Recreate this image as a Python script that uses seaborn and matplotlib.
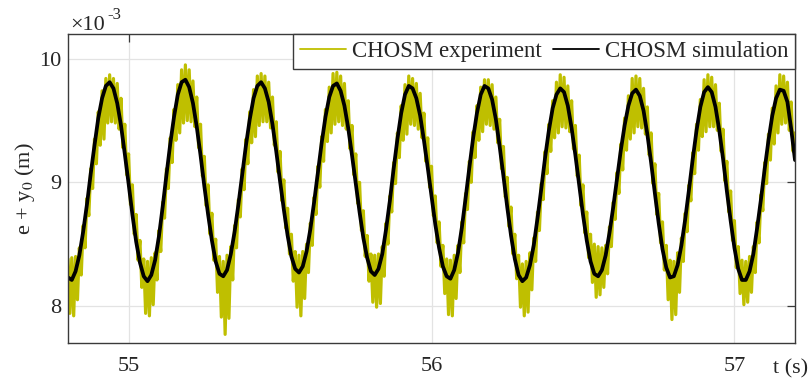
import numpy as np
import matplotlib
matplotlib.use("Agg")
import matplotlib.pyplot as plt
import seaborn as sns
from matplotlib.lines import Line2D

# ---------------- data (values in units of 1e-3 m) ----------------
t_start = 54.80          # s, first sample
sim_step = 0.0125        # s, sampling of simulation values
exp_step = 0.00625       # s, sampling of experiment values

sim_vals = [
    8.23, 8.21, 8.28, 8.41, 8.60, 8.82, 9.07, 9.30, 9.52, 9.68,
    9.78, 9.81, 9.76, 9.64, 9.46, 9.23, 8.99, 8.74, 8.52, 8.35,
    8.24, 8.20, 8.25, 8.37, 8.56, 8.80, 9.06, 9.31, 9.53, 9.71,
    9.81, 9.83, 9.77, 9.64, 9.45, 9.22, 8.97, 8.74, 8.53, 8.36,
    8.26, 8.24, 8.29, 8.42, 8.60, 8.82, 9.06, 9.30, 9.51, 9.68,
    9.78, 9.81, 9.76, 9.65, 9.47, 9.25, 9.01, 8.78, 8.57, 8.40,
    8.30, 8.27, 8.32, 8.44, 8.62, 8.84, 9.08, 9.32, 9.53, 9.69,
    9.78, 9.80, 9.74, 9.62, 9.44, 9.22, 8.99, 8.76, 8.55, 8.39,
    8.28, 8.25, 8.30, 8.42, 8.62, 8.85, 9.11, 9.35, 9.56, 9.71,
    9.78, 9.76, 9.68, 9.54, 9.34, 9.12, 8.89, 8.66, 8.47, 8.32,
    8.24, 8.22, 8.29, 8.43, 8.63, 8.87, 9.12, 9.36, 9.56, 9.71,
    9.78, 9.76, 9.67, 9.51, 9.29, 9.05, 8.80, 8.57, 8.38, 8.25,
    8.20, 8.23, 8.33, 8.49, 8.71, 8.95, 9.20, 9.42, 9.60, 9.71,
    9.76, 9.73, 9.62, 9.44, 9.22, 8.98, 8.74, 8.53, 8.36, 8.26,
    8.24, 8.29, 8.41, 8.59, 8.80, 9.03, 9.26, 9.46, 9.62, 9.72,
    9.75, 9.70, 9.58, 9.39, 9.16, 8.91, 8.67, 8.46, 8.31, 8.23,
    8.24, 8.33, 8.49, 8.70, 8.94, 9.19, 9.42, 9.61, 9.73, 9.77,
    9.73, 9.61, 9.42, 9.19, 8.93, 8.69, 8.47, 8.30, 8.21, 8.21,
    8.28, 8.42, 8.63, 8.86, 9.11, 9.34, 9.54, 9.68, 9.75, 9.74,
    9.65, 9.43, 9.18,
]

exp_vals = [
    8.38, 7.94, 8.39, 7.92, 8.40, 8.05, 8.47, 8.25, 8.65, 8.47,
    8.87, 8.73, 9.11, 8.95, 9.35, 9.15, 9.57, 9.30, 9.74, 9.35,
    9.84, 9.48, 9.87, 9.49, 9.84, 9.48, 9.80, 9.43, 9.68, 9.28,
    9.47, 9.06, 9.23, 8.82, 8.98, 8.58, 8.74, 8.37, 8.53, 8.15,
    8.38, 7.94, 8.36, 7.92, 8.39, 8.01, 8.43, 8.21, 8.61, 8.44,
    8.84, 8.71, 9.11, 8.95, 9.36, 9.16, 9.59, 9.34, 9.79, 9.40,
    9.91, 9.48, 9.95, 9.50, 9.91, 9.49, 9.82, 9.45, 9.69, 9.28,
    9.47, 9.05, 9.21, 8.81, 8.98, 8.58, 8.75, 8.37, 8.54, 8.11,
    8.40, 7.91, 8.36, 7.77, 8.41, 7.90, 8.48, 8.21, 8.65, 8.47,
    8.86, 8.72, 9.11, 8.94, 9.35, 9.15, 9.57, 9.32, 9.75, 9.37,
    9.86, 9.46, 9.88, 9.49, 9.86, 9.49, 9.81, 9.44, 9.69, 9.30,
    9.49, 9.08, 9.25, 8.85, 9.02, 8.63, 8.79, 8.42, 8.58, 8.20,
    8.44, 7.99, 8.41, 7.92, 8.44, 8.06, 8.50, 8.27, 8.67, 8.49,
    8.88, 8.74, 9.13, 8.96, 9.37, 9.17, 9.59, 9.33, 9.77, 9.40,
    9.88, 9.47, 9.89, 9.49, 9.86, 9.46, 9.80, 9.43, 9.66, 9.27,
    9.46, 9.06, 9.23, 8.83, 9.00, 8.61, 8.77, 8.40, 8.57, 8.20,
    8.42, 8.03, 8.41, 7.99, 8.42, 8.02, 8.48, 8.24, 8.67, 8.50,
    8.89, 8.76, 9.16, 8.99, 9.40, 9.20, 9.62, 9.34, 9.79, 9.39,
    9.86, 9.47, 9.84, 9.46, 9.80, 9.43, 9.72, 9.36, 9.56, 9.17,
    9.36, 8.96, 9.13, 8.73, 8.89, 8.51, 8.68, 8.32, 8.49, 8.10,
    8.38, 7.93, 8.37, 7.92, 8.41, 8.06, 8.49, 8.27, 8.68, 8.51,
    8.91, 8.78, 9.17, 9.00, 9.41, 9.20, 9.62, 9.34, 9.77, 9.41,
    9.83, 9.47, 9.83, 9.46, 9.79, 9.43, 9.69, 9.32, 9.51, 9.11,
    9.29, 8.88, 9.04, 8.64, 8.80, 8.42, 8.58, 8.22, 8.41, 7.99,
    8.34, 7.92, 8.36, 7.95, 8.43, 8.13, 8.55, 8.36, 8.76, 8.61,
    8.99, 8.86, 9.25, 9.07, 9.47, 9.25, 9.66, 9.36, 9.81, 9.40,
    9.87, 9.45, 9.85, 9.44, 9.78, 9.41, 9.66, 9.27, 9.46, 9.05,
    9.22, 8.81, 8.98, 8.59, 8.76, 8.39, 8.58, 8.19, 8.50, 8.07,
    8.48, 8.09, 8.47, 8.15, 8.49, 8.26, 8.64, 8.48, 8.84, 8.70,
    9.08, 8.91, 9.31, 9.10, 9.52, 9.26, 9.70, 9.35, 9.84, 9.40,
    9.86, 9.45, 9.84, 9.44, 9.76, 9.39, 9.61, 9.22, 9.40, 8.99,
    9.15, 8.74, 8.91, 8.51, 8.68, 8.29, 8.49, 8.05, 8.37, 7.89,
    8.36, 7.93, 8.43, 8.11, 8.55, 8.36, 8.75, 8.60, 8.98, 8.85,
    9.24, 9.07, 9.47, 9.26, 9.67, 9.37, 9.83, 9.41, 9.87, 9.45,
    9.85, 9.45, 9.79, 9.42, 9.64, 9.25, 9.43, 9.01, 9.17, 8.76,
    8.93, 8.53, 8.69, 8.31, 8.48, 8.10, 8.37, 8.01, 8.36, 8.03,
    8.40, 8.11, 8.48, 8.27, 8.68, 8.51, 8.90, 8.77, 9.16, 8.99,
    9.39, 9.18, 9.60, 9.31, 9.78, 9.40, 9.87, 9.47, 9.86, 9.48,
    9.81, 9.42, 9.65, 9.25, 9.40,
]

series_names = ["CHOSM experiment", "CHOSM simulation"]
series_colors = ["#BFBF00", "#000000"]
x_ticks = [55, 56, 57]
x_tick_labels = ["55", "56", "57"]
y_ticks = [8, 9, 10]
y_tick_labels = ["8", "9", "10"]
x_limits = (54.80, 57.20)
y_limits = (7.70, 10.20)

t_sim = t_start + sim_step * np.arange(len(sim_vals))
t_exp = t_start + exp_step * np.arange(len(exp_vals))

# ---------------- style ----------------
sns.set_style("white")
plt.rcParams["font.family"] = ["Liberation Serif", "DejaVu Serif"]
plt.rcParams["mathtext.fontset"] = "stix"
plt.rcParams["font.size"] = 16

fig = plt.figure(figsize=(8.09, 3.82), dpi=100)
ax = fig.add_axes([68 / 809, 1 - 343 / 382, (795 - 68) / 809, (343 - 34) / 382])

sns.lineplot(x=t_exp, y=exp_vals, ax=ax, color=series_colors[0], lw=2.3,
             estimator=None, sort=False, legend=False)
sns.lineplot(x=t_sim, y=sim_vals, ax=ax, color=series_colors[1], lw=2.7,
             estimator=None, sort=False, legend=False)

ax.set_xlim(*x_limits)
ax.set_ylim(*y_limits)
ax.set_xticks(x_ticks)
ax.set_xticklabels(x_tick_labels)
ax.set_yticks(y_ticks)
ax.set_yticklabels(y_tick_labels)
ax.grid(True, color="#e3e3e3", lw=0.9)
ax.set_axisbelow(True)
for s in ax.spines.values():
    s.set_visible(True)
    s.set_color("#3a3a3a")
    s.set_linewidth(1.0)
ax.tick_params(axis="both", direction="in", length=5.5, width=0.9,
               color="#3a3a3a", labelsize=16, labelcolor="#262626",
               top=True, right=True)
ax.tick_params(axis="x", pad=10)
ax.tick_params(axis="y", pad=5)

ax.set_ylabel(r"e + y$_0$ (m)", fontsize=16, color="#262626")
ax.yaxis.set_label_coords(-0.043, 0.5)

fig.text(70 / 809, 1 - 25 / 382, "×10", fontsize=16,
         color="#262626", ha="left", va="center")
fig.text(107 / 809, 1 - 15 / 382, "-3", fontsize=12,
         color="#262626", ha="left", va="center")
fig.text(808 / 809, 1 - 369 / 382, "t (s)", fontsize=16, color="#262626",
         ha="right", va="center")

handles = [Line2D([], [], color=c, lw=1.3) for c in series_colors]
leg = ax.legend(handles, series_names, loc="upper right", ncol=2,
                fontsize=16.5, frameon=True, fancybox=False, framealpha=1,
                edgecolor="#3a3a3a", borderaxespad=0, borderpad=0.3,
                handlelength=2.0, handletextpad=0.25, columnspacing=0.5)
leg.get_frame().set_linewidth(1.0)

fig.savefig("out.png", dpi=100)
